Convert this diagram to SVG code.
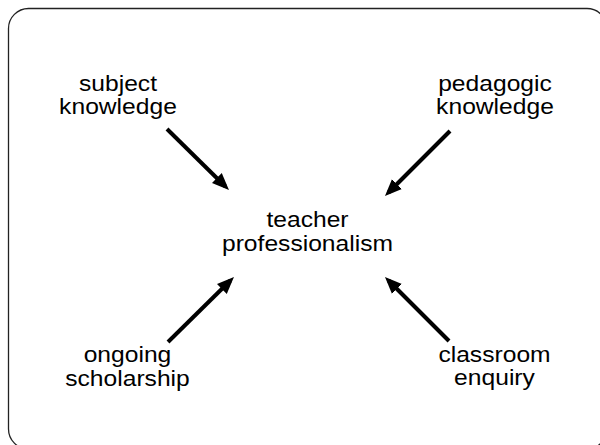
<svg xmlns="http://www.w3.org/2000/svg" width="600" height="445" viewBox="0 0 600 445">
<style>
.lbl{font-family:"Liberation Sans",Arial,Helvetica,sans-serif;font-size:22px;fill:#000;text-anchor:middle}
.arr{stroke:#000;stroke-width:4;fill:none;marker-end:url(#ah)}
</style>
<defs>
<marker id="ah" markerUnits="userSpaceOnUse" markerWidth="18" markerHeight="16" refX="12" refY="7" orient="auto" viewBox="0 0 18 14">
<path d="M0,0 L17,7 L0,14 z" fill="#000"/>
</marker>
</defs>
<rect x="8.5" y="8.5" width="598.5" height="440.5" rx="20" ry="20" fill="#fff" stroke="#222" stroke-width="1.3"/>
<g id="connectors">
<line class="arr" x1="167" y1="129" x2="225.4" y2="186.5"/>
<line class="arr" x1="450" y1="131" x2="388.5" y2="192.5"/>
<line class="arr" x1="168" y1="342" x2="230.4" y2="280.5"/>
<line class="arr" x1="449" y1="341" x2="388.5" y2="280.5"/>
</g>
<g id="subject-knowledge" transform="translate(118,0) scale(1.12,1)"><text class="lbl" x="0" y="91">subject</text><text class="lbl" x="0" y="114">knowledge</text></g>
<g id="pedagogic-knowledge" transform="translate(495,0) scale(1.12,1)"><text class="lbl" x="0" y="91">pedagogic</text><text class="lbl" x="0" y="114">knowledge</text></g>
<g id="teacher-professionalism" transform="translate(307.5,0) scale(1.12,1)"><text class="lbl" x="0" y="227">teacher</text><text class="lbl" x="0" y="251">professionalism</text></g>
<g id="ongoing-scholarship" transform="translate(127.5,0) scale(1.12,1)"><text class="lbl" x="0" y="362">ongoing</text><text class="lbl" x="0" y="386">scholarship</text></g>
<g id="classroom-enquiry" transform="translate(494.5,0) scale(1.12,1)"><text class="lbl" x="0" y="362">classroom</text><text class="lbl" x="0" y="385">enquiry</text></g>
</svg>
